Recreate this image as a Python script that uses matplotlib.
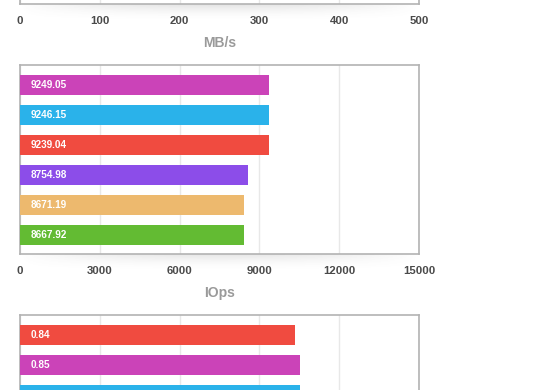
import numpy as np
import matplotlib
matplotlib.use("Agg")
import matplotlib.pyplot as plt

plt.rcParams['font.family'] = ['Liberation Sans', 'DejaVu Sans']

# top chart (only its x axis is in view)
mbs_ticks = [0, 100, 200, 300, 400, 500]

# middle chart
iops_values = [9249.05, 9246.15, 9239.04, 8754.98, 8671.19, 8667.92]
iops_colors = ['#CB43B8', '#2AB2EA', '#F04B40', '#8C4DE9', '#EDB96E', '#63BB33']
iops_ticks = [0, 3000, 6000, 9000, 12000, 15000]

# bottom chart (cut off at the bottom)
lat_values = [0.84, 0.85, 0.85]
lat_colors = ['#F04B40', '#CB43B8', '#2AB2EA']

W, H = 560, 390
FRAME_H = 189
fig = plt.figure(figsize=(W / 100, H / 100), dpi=100)


def add_shadow(top_px):
    # soft shadow below the chart frame
    sh = fig.add_axes([20 / W, 1 - (top_px + FRAME_H + 18) / H, 399 / W, 18 / H])
    sh.axis('off')
    xs = np.linspace(0, 1, 200)
    ys = np.linspace(0, 1, 30)
    horiz = np.sin(np.pi * xs) ** 0.8
    vert = (1 - ys) ** 2
    alpha = 0.17 * np.outer(vert, horiz)
    img = np.zeros((len(ys), len(xs), 4))
    img[..., :3] = 0.35
    img[..., 3] = alpha
    sh.imshow(img, aspect='auto', extent=(0, 1, 1, 0))
    sh.set_xlim(0, 1)
    sh.set_ylim(1, 0)


def make_chart(top_px, ticks, xlabel=None, n_rows=6, show_ticks=True):
    ax = fig.add_axes([20 / W, 1 - (top_px + FRAME_H) / H, 399 / W, FRAME_H / H])
    ax.set_xlim(ticks[0], ticks[-1])
    ax.set_ylim(n_rows - 1 + 19 / 30, -20 / 30)
    ax.set_xticks(ticks)
    ax.set_yticks([])
    ax.grid(axis='x', color='#e8e8e8', linewidth=1.0)
    ax.set_axisbelow(True)
    for s in ax.spines.values():
        s.set_color('#b3b3b3')
        s.set_linewidth(1.2)
    ax.tick_params(axis='x', length=0, pad=8.5, labelsize=8.2, labelcolor='#4a4a4a',
                   labelbottom=show_ticks)
    for lbl in ax.get_xticklabels():
        lbl.set_fontweight('bold')
    if xlabel:
        ax.set_xlabel(xlabel, fontsize=10, color='#9a9a9a', fontweight='bold', labelpad=7.5)
    return ax


def draw_bars(ax, values, colors, lims, fmt, n_labels=None):
    bx = ax.twiny()
    bx.set_xlim(*lims)
    bx.set_xticks([])
    for s in bx.spines.values():
        s.set_visible(False)
    pos = np.arange(len(values))
    bx.barh(pos, values, height=20 / 30, color=colors, linewidth=0)
    # labels only for the bars that are in view
    for p, v in list(zip(pos, values))[:n_labels]:
        bx.text(11 / 399, p, fmt % v, transform=bx.get_yaxis_transform(),
                color='white', fontsize=7.2, fontweight='bold', va='center', ha='left')


# top chart
add_shadow(-185)
top_ax = make_chart(-185, mbs_ticks, 'MB/s')

# middle chart
add_shadow(65)
mid_ax = make_chart(65, iops_ticks, 'IOps')
draw_bars(mid_ax, iops_values, iops_colors, (3461, 12736), '%.2f')

# bottom chart
bot_ax = make_chart(315, [0, 0.24, 0.48, 0.72, 0.96, 1.2], show_ticks=False)
draw_bars(bot_ax, lat_values, lat_colors, (0.29, 1.088), '%.2f', n_labels=2)

fig.savefig('out.png', dpi=100)
